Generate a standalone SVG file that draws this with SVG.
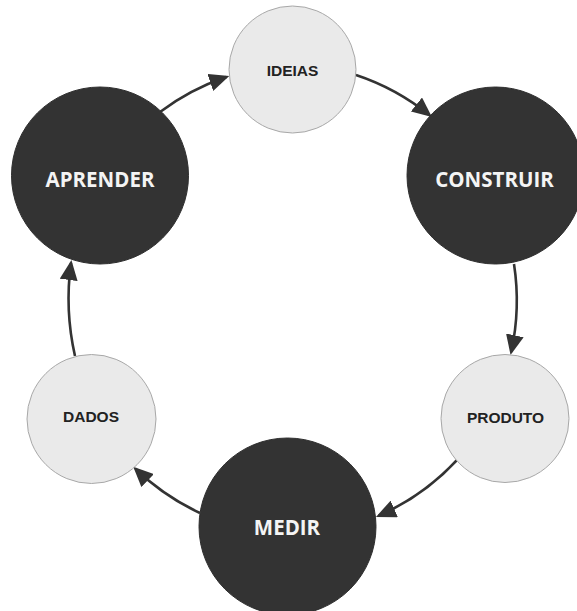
<svg xmlns="http://www.w3.org/2000/svg" width="577" height="611" viewBox="0 0 577 611">
<style>
.dark{fill:#333333;stroke:#2e2e2e;stroke-width:1}
.light{fill:#eaeaea;stroke:#a8a8a8;stroke-width:1}
.dt{font-family:"Open Sans","Liberation Sans",sans-serif;font-weight:bold;font-size:20.5px;fill:#f4f4f4;text-anchor:middle}
.lt{font-family:"Liberation Sans",Arial,sans-serif;font-weight:bold;font-size:15.5px;fill:#222;text-anchor:middle}
.conn{fill:none;stroke:#333;stroke-width:2.6}
</style>
<defs>
<marker id="ah" markerUnits="userSpaceOnUse" markerWidth="20" markerHeight="18" refX="17" refY="9" orient="auto" viewBox="0 0 20 18">
<path d="M0,0 L20,9 L0,18 z" fill="#333"/>
</marker>
</defs>
<rect width="577" height="611" fill="#fff"/>
<g id="connectors">
<path class="conn" marker-end="url(#ah)" d="M160,112 A235 235 0 0 1 226.4,77"/>
<path class="conn" marker-end="url(#ah)" d="M356,75 A235 235 0 0 1 429.6,115.2"/>
<path class="conn" marker-end="url(#ah)" d="M514,264 A240 240 0 0 1 511.2,352"/>
<path class="conn" marker-end="url(#ah)" d="M457,460 A235 235 0 0 1 378.7,515.7"/>
<path class="conn" marker-end="url(#ah)" d="M200,513 A235 235 0 0 1 135.4,468.8"/>
<path class="conn" marker-end="url(#ah)" d="M75,356 A260 260 0 0 1 71,263"/>
</g>
<g id="ideias">
<circle class="light" cx="292.5" cy="69.5" r="63.5"/>
<text class="lt" x="292.5" y="75.5">IDEIAS</text>
</g>
<g id="construir">
<circle class="dark" cx="495.5" cy="175.5" r="88.5"/>
<text class="dt" x="494.5" y="187">CONSTRUIR</text>
</g>
<g id="produto">
<circle class="light" cx="505" cy="418.5" r="64"/>
<text class="lt" x="505.5" y="422.5">PRODUTO</text>
</g>
<g id="medir">
<circle class="dark" cx="287.5" cy="526.5" r="88.5"/>
<text class="dt" x="287" y="535">MEDIR</text>
</g>
<g id="dados">
<circle class="light" cx="91.5" cy="419" r="64.5"/>
<text class="lt" x="91" y="422">DADOS</text>
</g>
<g id="aprender">
<circle class="dark" cx="100" cy="175.5" r="88.5"/>
<text class="dt" x="100" y="186.5">APRENDER</text>
</g>
</svg>
